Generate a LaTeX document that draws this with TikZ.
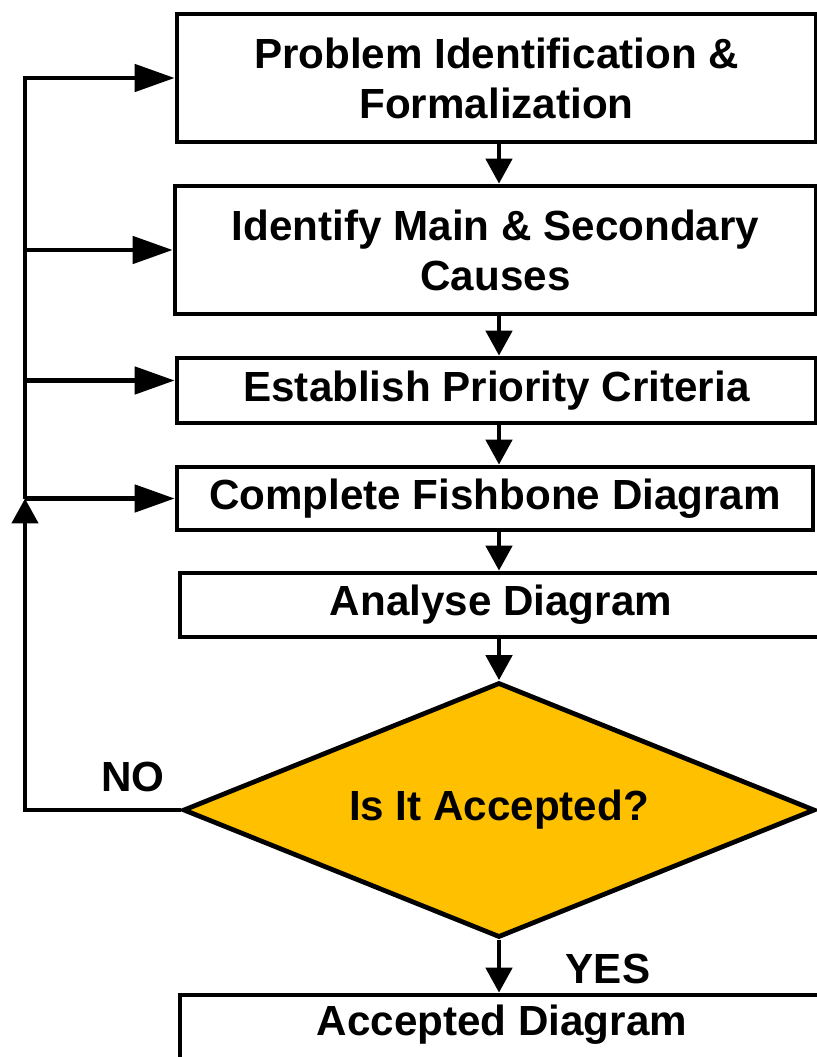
\documentclass[tikz,border=0pt]{standalone}
\usepackage{fontspec}
\setmainfont{Liberation Sans}
\usetikzlibrary{arrows.meta,shapes.geometric}
\definecolor{decisionyellow}{HTML}{FFC000}

\begin{document}
\begin{tikzpicture}[
  x=0.02cm, y=-0.02cm,
  line width=0.095cm,
  box/.style={draw, rectangle, inner sep=0pt, align=center, font=\fontsize{24}{28.5}\selectfont\bfseries},
  decision/.style={draw, diamond, fill=decisionyellow, inner sep=0pt, shape aspect=2.5,
    minimum width=12.64cm, minimum height=5.1cm, font=\fontsize{24}{28.5}\selectfont\bfseries},
  lbl/.style={inner sep=0pt, font=\fontsize{24}{28.5}\selectfont\bfseries},
  harr/.style={-{Triangle[length=0.8cm,width=0.54cm]}},
  varr/.style={-{Triangle[length=0.5cm,width=0.52cm]}}
]
  \path[use as bounding box, clip] (0,0) rectangle (817,1057);

  \node[box, minimum width=12.78cm, minimum height=2.56cm] (ident) at (496.5,78) {Problem Identification \&\\Formalization};
  \node[box, minimum width=12.82cm, minimum height=2.56cm] (causes) at (495.5,250) {Identify Main \& Secondary\\Causes};
  \node[box, minimum width=12.78cm, minimum height=1.3cm] (prio) at (496.5,390.5) {Establish Priority Criteria};
  \node[box, minimum width=12.72cm, minimum height=1.26cm] (fish) at (495,498.5) {Complete Fishbone Diagram};
  \node[box, minimum width=12.84cm, minimum height=1.28cm] (analyse) at (501,605) {Analyse Diagram};
  \node[decision] (accept) at (499,810) {Is It Accepted?};
  \node[box, minimum width=12.88cm, minimum height=1.4cm, text height=17.5pt, text depth=11.8pt] (done) at (502,1030) {Accepted Diagram};

  \node[lbl] (no) at (133,777) {NO};
  \node[lbl] (yes) at (608,969) {YES};

  \coordinate (nobend) at (25,810);
  \coordinate (join) at (25,498.5);
  \coordinate (topbend) at (25,78);
  \coordinate (prioin) at ([yshift=0.2cm]prio.west);

  \draw[varr] (ident.south -| accept.north) -- (causes.north -| accept.north);
  \draw[varr] (causes.south -| accept.north) -- (prio.north -| accept.north);
  \draw[varr] (prio.south -| accept.north) -- (fish.north -| accept.north);
  \draw[varr] (fish.south -| accept.north) -- (analyse.north -| accept.north);
  \draw[varr] (analyse.south -| accept.north) -- (accept.north);
  \draw[varr] (accept.south) -- (done.north -| accept.south);

  \draw[varr] (accept.west) -- (nobend) -- (join);
  \draw[harr] (join) -- (topbend) -- (ident.west);
  \draw[harr] (causes.west -| join) -- (causes.west);
  \draw[harr] (prioin -| join) -- (prioin);
  \draw[harr] (join) -- (fish.west);
\end{tikzpicture}
\end{document}
